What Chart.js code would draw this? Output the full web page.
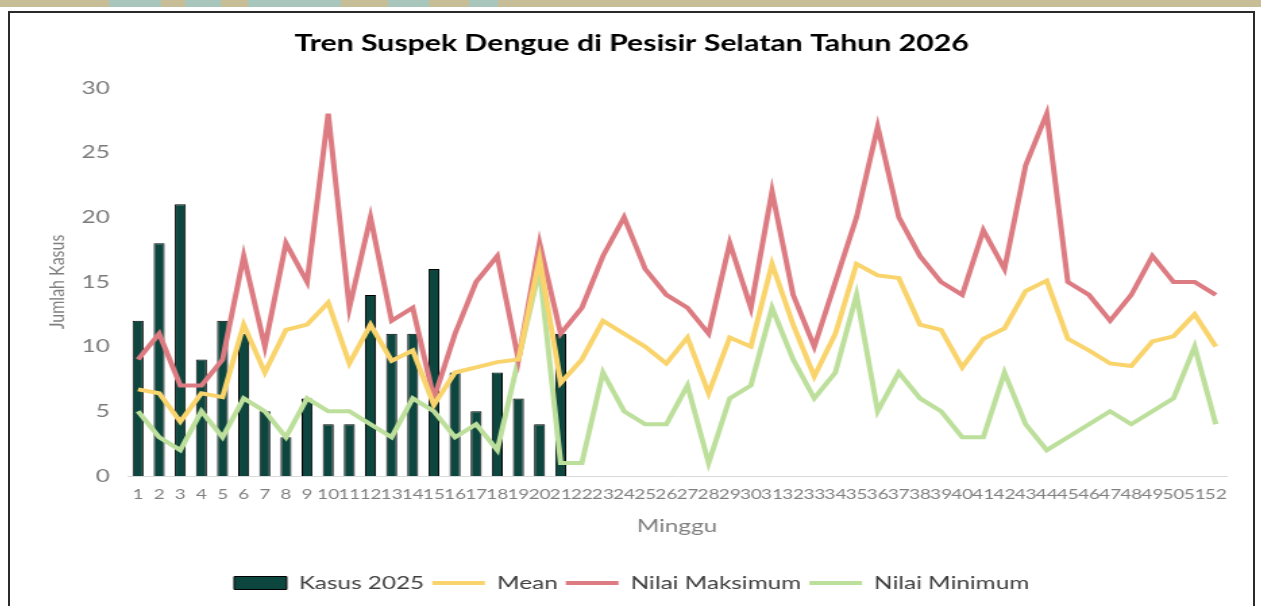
<!DOCTYPE html>
<html>
<head>
<meta charset="utf-8">
<script src="https://cdn.jsdelivr.net/npm/chart.js@4"></script>
<style>
  body { margin: 0; background: #fff; overflow: hidden; width: 1261px; height: 606px; }
  #band {
    position: absolute; left: 0; top: 0; width: 1261px; height: 7px;
    background: linear-gradient(to right,
      #c7bd96 0 109px, #a9c6bc 109px 161px, #c7bd96 161px 185px, #a9c6bc 185px 221px,
      #c7bd96 221px 248px, #a9c6bc 248px 341px, #c7bd96 341px 388px, #a9c6bc 388px 429px,
      #c7bd96 429px 469px, #a9c6bc 469px 498px, #c7bd96 498px);
  }
  #frame { position: absolute; left: 8px; top: 11px; width: 1243px; height: 620px; border: 2px solid #2b2b2b; }
  /* the source picture is stretched sideways, so the chart is too */
  #wrap { position: absolute; left: 10px; top: 13px; width: 921px; height: 593px; transform: scaleX(1.35); transform-origin: 0 0; }
</style>
</head>
<body>
<div id="band"></div>
<div id="frame"></div>
<div id="wrap"><canvas id="chart"></canvas></div>
<script>
const weeks = ["1","2","3","4","5","6","7","8","9","10","11","12","13","14","15","16","17","18","19","20",
  "21","22","23","24","25","26","27","28","29","30","31","32","33","34","35","36","37","38","39","40",
  "41","42","43","44","45","46","47","48","49","50","51","52"];

// kasus 2025 (minggu 1 - 21)
const kasus2025 = [12, 18, 21, 9, 12, 11, 5, 3, 6, 4, 4, 14, 11, 11, 16, 8, 5, 8, 6, 4, 11];

const mean = [6.7, 6.4, 4.2, 6.4, 6.1, 11.7, 8.0, 11.3, 11.7, 13.4, 8.7, 11.7, 8.9, 9.7, 5.5, 8.0, 8.4, 8.8, 9.0, 16.8,
  7.2, 9.0, 12.0, 11.0, 10.0, 8.7, 10.7, 6.4, 10.7, 10.0, 16.4, 11.7, 7.7, 11.0, 16.4, 15.5, 15.3, 11.7, 11.3, 8.4,
  10.6, 11.4, 14.3, 15.1, 10.6, 9.7, 8.7, 8.5, 10.4, 10.8, 12.5, 10.0];

const nilaiMaks = [9, 11, 7, 7, 9, 17, 10, 18, 15, 28, 13, 20, 12, 13, 6, 11, 15, 17, 9, 18,
  11, 13, 17, 20, 16, 14, 13, 11, 18, 13, 22, 14, 10, 15, 20, 27, 20, 17, 15, 14,
  19, 16, 24, 28, 15, 14, 12, 14, 17, 15, 15, 14];

const nilaiMin = [5, 3, 2, 5, 3, 6, 5, 3, 6, 5, 5, 4, 3, 6, 5, 3, 4, 2, 9, 16,
  1, 1, 8, 5, 4, 4, 7, 1, 6, 7, 13, 9, 6, 8, 14, 5, 8, 6, 5, 3,
  3, 8, 4, 2, 3, 4, 5, 4, 5, 6, 10, 4];

const yTicks = [0, 5, 10, 15, 20, 25, 30];

Chart.defaults.font.family = "Lato";

const lineSet = (label, data, color) => ({
  type: "line",
  label: label,
  data: data,
  borderColor: color,
  backgroundColor: color,
  borderWidth: 4,
  pointRadius: 0,
  pointBorderWidth: 4,
  pointStyle: "line",
  tension: 0,
  order: 0,
});

const data = {
  labels: weeks,
  datasets: [
    {
      type: "bar",
      label: "Kasus 2025",
      data: kasus2025,
      backgroundColor: "#0d463e",
      borderColor: "#000000",
      borderWidth: 1,
      pointStyle: "rect",
      barPercentage: 0.52,
      categoryPercentage: 1,
      order: 1,
    },
    lineSet("Mean", mean, "#f9d46c"),
    lineSet("Nilai Maksimum", nilaiMaks, "#dc7b81"),
    lineSet("Nilai Minimum", nilaiMin, "#bddf9c"),
  ],
};

const config = {
  type: "bar",
  data: data,
  options: {
    responsive: true,
    maintainAspectRatio: false,
    animation: false,
    layout: { padding: { left: 0, right: 0, top: 0, bottom: 4 } },
    plugins: {
      title: {
        display: true,
        text: "Tren Suspek Dengue di Pesisir Selatan Tahun 2026",
        color: "#000",
        font: { size: 22.4, weight: "bold" },
        padding: { top: 17, bottom: 31 },
      },
      legend: {
        position: "bottom",
        labels: {
          usePointStyle: true,
          pointStyleWidth: 39,
          boxHeight: 13,
          padding: 6,
          color: "#404040",
          font: { size: 18 },
          sort: (a, b) => a.datasetIndex - b.datasetIndex,
        },
      },
      tooltip: { enabled: false },
    },
    scales: {
      x: {
        grid: { display: false, drawTicks: false },
        border: { display: true, color: "#d9d9d9", width: 1 },
        ticks: { autoSkip: false, maxRotation: 0, minRotation: 0, padding: 10, color: "#7f7f7f", font: { size: 14 } },
        title: { display: true, text: "Minggu", color: "#7f7f7f", font: { size: 18 }, padding: { top: 4, bottom: 31 } },
        afterFit: (axis) => { axis.height = 92; },
      },
      y: {
        min: 0,
        max: 30,
        afterBuildTicks: (axis) => { axis.ticks = yTicks.map((v) => ({ value: v })); },
        grid: { display: false, drawTicks: false },
        border: { display: false },
        ticks: { padding: 13, color: "#7a7a7a", font: { size: 18 } },
        title: { display: true, text: "Jumlah Kasus", color: "#7f7f7f", font: { size: 16 }, padding: { top: 25 } },
        afterFit: (axis) => { axis.width = 87; },
      },
      // empty right margin, keeps title and legend centred on the whole frame
      spacer: {
        type: "linear",
        position: "right",
        min: 0,
        max: 1,
        grid: { display: false, drawTicks: false },
        border: { display: false },
        ticks: { display: false },
        afterFit: (axis) => { axis.width = 20; },
      },
    },
  },
};

new Chart(document.getElementById("chart"), config);
</script>
</body>
</html>
